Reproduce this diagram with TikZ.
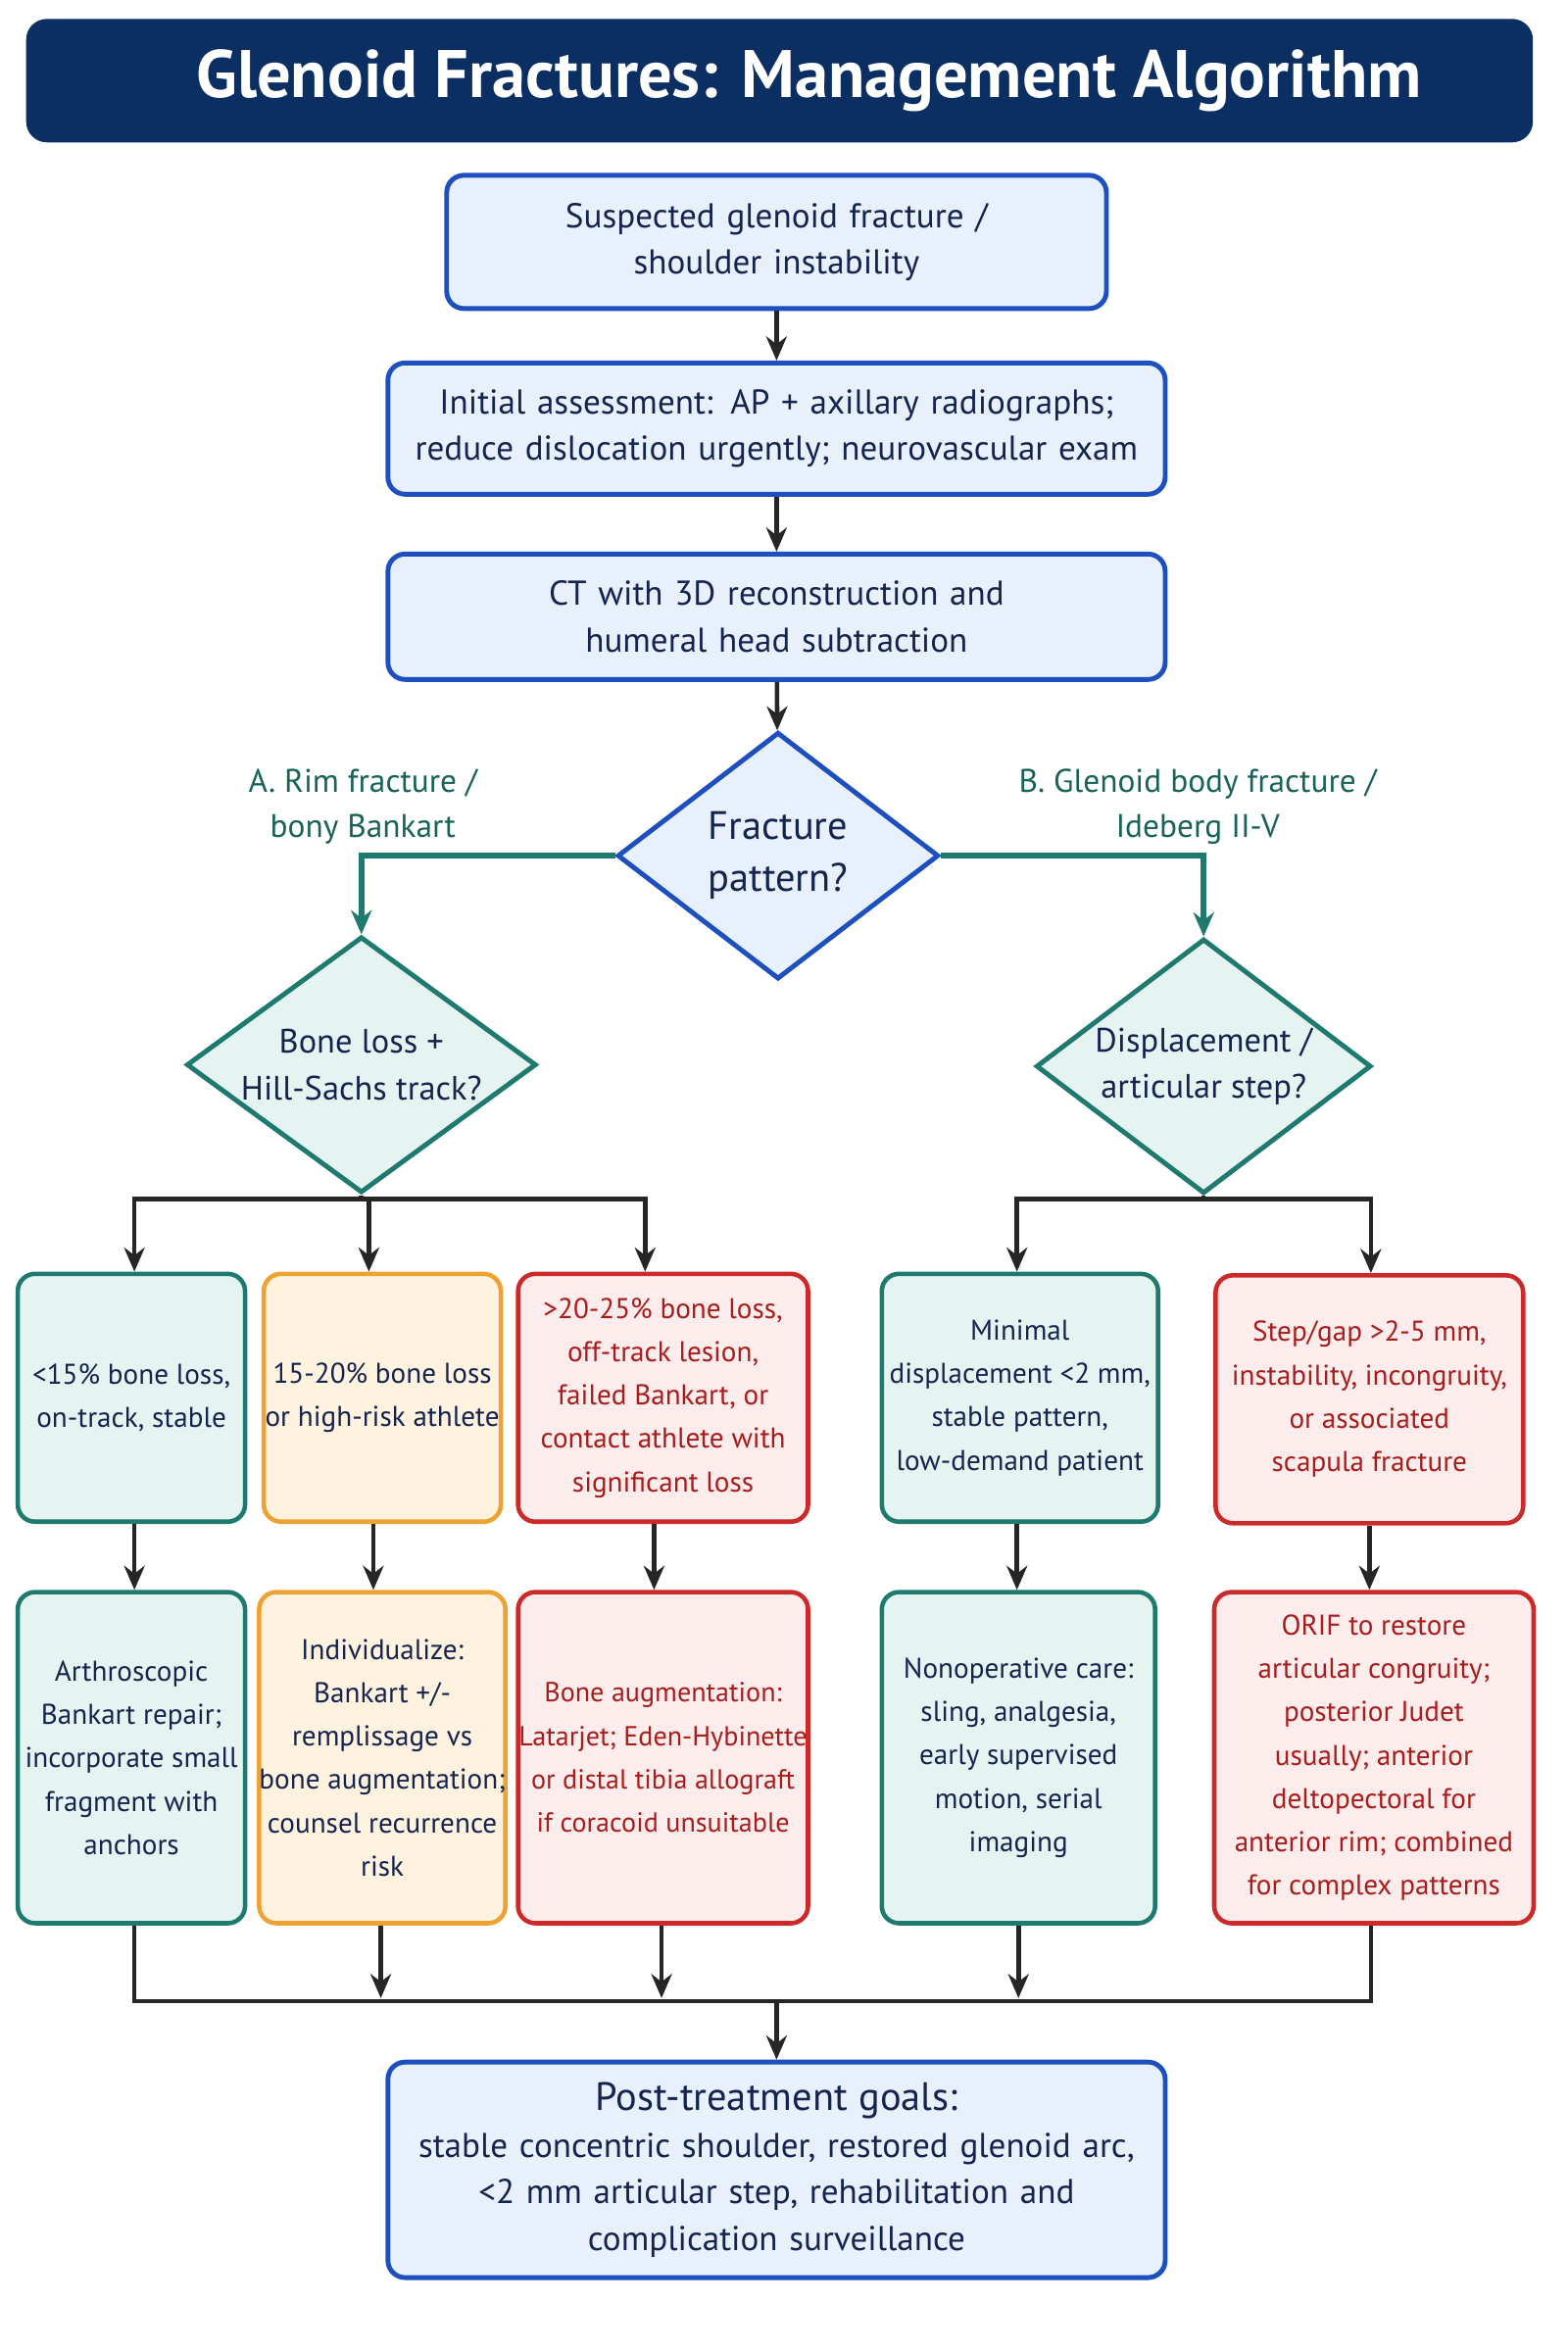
\documentclass[tikz,border=0pt]{standalone}
\usepackage{fontspec}
\setmainfont{PT Sans}
\usetikzlibrary{arrows.meta, positioning, shapes.geometric}
\definecolor{navy}{HTML}{0B2E63}
\definecolor{ink}{HTML}{14244F}
\definecolor{bblue}{HTML}{1E4FBF}
\definecolor{fblue}{HTML}{E8F0FC}
\definecolor{bteal}{HTML}{1E7A6E}
\definecolor{fteal}{HTML}{E6F4F1}
\definecolor{borange}{HTML}{EFA234}
\definecolor{forange}{HTML}{FFF3DF}
\definecolor{bred}{HTML}{CC2A2A}
\definecolor{fred}{HTML}{FDECEC}
\definecolor{tred}{HTML}{A81C1C}
\begin{document}
\begin{tikzpicture}[
x=0.01524cm, y=-0.01524cm,
>={Stealth[length=7pt,width=6pt]},
every node/.style={font=\fontsize{10}{13.5}\selectfont, text=ink, align=center},
bluebox/.style={draw=bblue, fill=fblue, line width=1.4pt, rounded corners=5pt, text width=#1},
sbox/.style={line width=1.3pt, rounded corners=5pt, minimum width=#1, inner xsep=0pt, minimum height=2.53cm, font=\fontsize{8.3}{12.6}\selectfont},
tealbox/.style={sbox=#1, draw=bteal, fill=fteal},
orbox/.style={sbox=#1, draw=borange, fill=forange},
redbox/.style={sbox=#1, draw=bred, fill=fred, text=tred},
dia/.style={diamond, aspect=1.3, line width=1.4pt, inner sep=0pt},
lbl/.style={text=bteal!80!black, font=\fontsize{9.5}{13}\selectfont},
link/.style={->, line width=1.3pt, black!85},
tlink/.style={->, line width=1.6pt, bteal},
]
\useasboundingbox (0,0) rectangle (1050,1575);
%% title
\node[fill=navy, rounded corners=6pt, minimum width=15.38cm, minimum height=1.26cm, text=white,
  font=\fontsize{19.5}{24}\selectfont\bfseries] (title) at (522,54) {\hspace*{0.6cm}Glenoid Fractures: Management Algorithm};

%% top chain
\node[bluebox=6.5cm, minimum height=1.36cm] (susp) at (520,162) {Suspected glenoid fracture /\\ shoulder instability};
\node[bluebox=7.7cm, minimum height=1.34cm] (init) at (520,287) {Initial assessment: AP + axillary radiographs;\\ reduce dislocation urgently; neurovascular exam};
\node[bluebox=7.7cm, minimum height=1.28cm] (ct) at (520,413) {CT with 3D reconstruction and\\ humeral head subtraction};
\node[dia, draw=bblue, fill=fblue, minimum width=3.28cm, minimum height=2.52cm, font=\fontsize{11.5}{15}\selectfont] (pat) at (521,573) {Fracture\\ pattern?};
\draw[link] (susp) -- (init);
\draw[link] (init) -- (ct);
\draw[link] (ct) -- (pat);

%% branch labels
\node[lbl] (la) at (243,540) {A. Rim fracture /\\ bony Bankart};
\node[lbl] (lb) at (802,540) {B. Glenoid body fracture /\\ Ideberg II-V};

%% second level diamonds
\node[dia, draw=bteal, fill=fteal, minimum width=3.57cm, minimum height=2.6cm, font=\fontsize{9.8}{13.5}\selectfont] (bone) at (242,713) {Bone loss +\\ Hill-Sachs track?};
\node[dia, draw=bteal, fill=fteal, minimum width=3.42cm, minimum height=2.6cm, font=\fontsize{9.8}{13.5}\selectfont] (disp) at (806,714) {Displacement /\\ articular step?};
\draw[tlink] (pat.west) -| (bone.north);
\draw[tlink] (pat.east) -| (disp.north);

%% row 1
\node[tealbox=2.32cm] (a1) at (88,936) {<15\% bone loss,\\ on-track, stable};
\node[orbox=2.42cm] (b1) at (256,936) {15-20\% bone loss\\ or high-risk athlete};
\node[redbox=2.96cm] (c1) at (444,936) {>20-25\% bone loss,\\ off-track lesion,\\ failed Bankart, or\\ contact athlete with\\ significant loss};
\node[tealbox=2.82cm] (d1) at (683,936) {Minimal\\ displacement <2 mm,\\ stable pattern,\\ low-demand patient};
\node[redbox=3.14cm] (e1) at (917,937) {Step/gap >2-5 mm,\\ instability, incongruity,\\ or associated\\ scapula fracture};

\coordinate (jl) at (242,803);
\coordinate (jr) at (806,803);
\draw[line width=1.3pt, black!85] (bone.south) -- (jl);
\draw[line width=1.3pt, black!85] (disp.south) -- (jr);
\draw[link] (jl) -| (a1.north -| 90,0);
\draw[link] (jl) -| (b1.north -| 247,0);
\draw[link] (jl) -| (c1.north -| 432,0);
\draw[link] (jr) -| (d1.north -| 681,0);
\draw[link] (jr) -| (e1.north -| 918,0);

%% row 2
\node[tealbox=2.32cm, minimum height=3.38cm] (a2) at (88,1177) {Arthroscopic\\ Bankart repair;\\ incorporate small\\ fragment with\\ anchors};
\node[orbox=2.42cm, minimum height=3.38cm] (b2) at (256,1177) {Individualize:\\ Bankart +/-\\ remplissage vs\\ bone augmentation;\\ counsel recurrence\\ risk};
\node[redbox=2.96cm, minimum height=3.38cm, font=\fontsize{8}{12.6}\selectfont] (c2) at (444,1177) {Bone augmentation:\\ Latarjet; Eden-Hybinette\\ or distal tibia allograft\\ if coracoid unsuitable};
\node[tealbox=2.79cm, minimum height=3.38cm] (d2) at (682,1177) {Nonoperative care:\\ sling, analgesia,\\ early supervised\\ motion, serial\\ imaging};
\node[redbox=3.26cm, minimum height=3.38cm] (e2) at (920,1177) {ORIF to restore\\ articular congruity;\\ posterior Judet\\ usually; anterior\\ deltopectoral for\\ anterior rim; combined\\ for complex patterns};
\draw[link] (a1.south -| 90,0) -- (a2.north -| 90,0);
\draw[link] (b1.south -| 250,0) -- (b2.north -| 250,0);
\draw[link] (c1.south -| 438,0) -- (c2.north -| 438,0);
\draw[link] (d1.south -| 681,0) -- (d2.north -| 681,0);
\draw[link] (e1.south -| 917,0) -- (e2.north -| 917,0);

%% merge
\node[bluebox=7.7cm, minimum height=2.2cm] (goal) at (520,1453) {{\fontsize{11.5}{15}\selectfont Post-treatment goals:}\\ stable concentric shoulder, restored glenoid arc,\\ <2 mm articular step, rehabilitation and\\ complication surveillance};
\coordinate (jm) at (520,1340);
\draw[line width=1.3pt, black!85] (a2.south -| 90,0) |- (jm);
\draw[line width=1.3pt, black!85] (e2.south -| 918,0) |- (jm);
\draw[link] (b2.south -| 255,0) -- (255,1338);
\draw[link] (c2.south -| 443,0) -- (443,1338);
\draw[link] (d2.south -| 682,0) -- (682,1338);
\draw[link] (jm) -- (goal);
\end{tikzpicture}
\end{document}
